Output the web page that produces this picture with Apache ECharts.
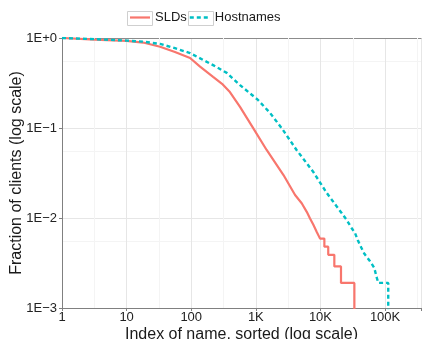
<!DOCTYPE html>
<html>
<head>
<meta charset="utf-8">
<script src="https://cdn.jsdelivr.net/npm/echarts@6/dist/echarts.min.js"></script>
<style>
  html, body { margin: 0; padding: 0; background: #fff; }
  #chart { width: 422px; height: 339px; }
</style>
</head>
<body>
<div id="chart"></div>
<script>
// CCDF of clients over names
const sldIdx = [1, 3.2, 10, 18, 33, 56, 96, 137, 218, 300, 390, 569, 915, 1470, 2680, 4050, 5130, 6140, 6900, 7770, 8770, 9860,
  11500, 11500, 13200, 13200, 16400, 16400, 20800, 20800, 33500, 33500];
const sldFrac = [1, 0.96, 0.93, 0.89, 0.80, 0.70, 0.60, 0.48, 0.37, 0.31, 0.255, 0.172, 0.099, 0.057, 0.030, 0.018, 0.0146, 0.0117, 0.0099, 0.0084, 0.0070, 0.0059,
  0.0059, 0.0048, 0.0048, 0.0039, 0.0039, 0.0029, 0.0029, 0.0019, 0.0019, 0.00096];

const hostIdx = [1, 3.2, 10, 18, 33, 56, 96, 218, 355, 569, 1080, 1660, 2530, 4270, 7700, 12500, 17900, 21400, 25500, 30500,
  34300, 37800, 41000, 47800, 58600, 68000, 74000, 78700, 112000, 112000];
const hostFrac = [1, 0.97, 0.935, 0.91, 0.86, 0.77, 0.68, 0.50, 0.41, 0.30, 0.205, 0.147, 0.099, 0.057, 0.0327, 0.019, 0.0134, 0.0113, 0.0095, 0.0077,
  0.0068, 0.0057, 0.0050, 0.0040, 0.0033, 0.0028, 0.0022, 0.0019, 0.0019, 0.00096];

const xTickLabels = { 0: '1', 1: '10', 2: '100', 3: '1K', 4: '10K', 5: '100K' };
const yTickLabels = { 0: '1E+0', '-1': '1E\u22121', '-2': '1E\u22122', '-3': '1E\u22123' };
const xMinorTicks = [3.1623, 31.623, 316.23, 3162.3, 31623, 316228];

const FONT = '"Liberation Sans", Arial, sans-serif';
const red = '#F8766D';
const cyan = '#00BFC4';

const zip = (xs, ys) => xs.map((x, i) => [x, ys[i]]);

const chart = echarts.init(document.getElementById('chart'), null, { renderer: 'canvas' });
chart.setOption({
  animation: false,
  textStyle: { fontFamily: FONT },
  grid: { left: 62, right: 1, top: 38, bottom: 31, containLabel: false, outerBoundsMode: 'none' },
  legend: {
    top: 11,
    left: 130,
    padding: 0,
    itemWidth: 20,
    itemHeight: 14,
    itemGap: 3,
    textStyle: { fontSize: 13, color: '#1a1a1a', fontFamily: FONT },
    data: [
      { name: 'SLDs', icon: 'path://M0,0H20V2.2H0Z' },
      { name: 'Hostnames', icon: 'path://M0,0h4v2.4h-4z M7,0h4v2.4h-4z M14,0h4v2.4h-4z M20,0h0.01v2.4h-0.01z' }
    ]
  },
  graphic: [
    { type: 'rect', shape: { x: 127.5, y: 11.5, width: 25, height: 14 }, style: { fill: 'none', stroke: '#cfcfcf', lineWidth: 1 }, z: 0 },
    { type: 'rect', shape: { x: 188.5, y: 11.5, width: 25, height: 14 }, style: { fill: 'none', stroke: '#cfcfcf', lineWidth: 1 }, z: 0 }
  ],
  xAxis: [{
    type: 'log',
    logBase: 10,
    min: 1,
    max: 360000,
    name: 'Index of name, sorted (log scale)',
    nameLocation: 'middle',
    nameGap: 19,
    nameMoveOverlap: false,
    nameTextStyle: { fontSize: 16, color: '#1a1a1a', fontFamily: FONT },
    axisLine: { lineStyle: { color: '#808080', width: 1 } },
    axisTick: { show: true, length: 3, lineStyle: { color: '#808080' } },
    axisLabel: {
      fontSize: 13, color: '#222', margin: 3, fontFamily: FONT,
      formatter: v => {
        const e = Math.log10(v);
        return Math.abs(e - Math.round(e)) < 1e-6 && xTickLabels[Math.round(e)] !== undefined ? xTickLabels[Math.round(e)] : '';
      }
    },
    splitLine: { show: true, lineStyle: { color: '#e6e6e6', width: 1 } },
    minorSplitLine: { show: false }
  }, {
    type: 'log',
    position: 'top',
    min: 1,
    max: 360000,
    axisLine: { show: true, lineStyle: { color: '#8c8c8c', width: 1 } },
    axisTick: { show: false },
    axisLabel: { show: false },
    splitLine: { show: false }
  }],
  yAxis: {
    type: 'log',
    logBase: 10,
    min: 0.001,
    max: 1,
    name: 'Fraction of clients (log scale)',
    nameLocation: 'middle',
    nameGap: 37,
    nameMoveOverlap: false,
    nameTextStyle: { fontSize: 16, color: '#1a1a1a', fontFamily: FONT },
    axisLine: { show: true, lineStyle: { color: '#808080', width: 1 } },
    axisTick: { show: true, length: 3, lineStyle: { color: '#808080' } },
    axisLabel: {
      fontSize: 13, color: '#222', margin: 5, fontFamily: FONT,
      formatter: v => yTickLabels[Math.round(Math.log10(v))] || ''
    },
    splitLine: { show: true, lineStyle: { color: '#e6e6e6', width: 1 } },
    minorTick: { show: false, splitNumber: 2 },
    minorSplitLine: { show: true, lineStyle: { color: '#f4f4f4', width: 1 } }
  },
  series: [{
    type: 'line',
    name: 'minor',
    data: [],
    z: 1,
    silent: true,
    markLine: {
      z: 1,
      silent: true,
      symbol: 'none',
      label: { show: false },
      lineStyle: { color: '#f4f4f4', width: 1, type: 'solid' },
      data: xMinorTicks.map(v => ({ xAxis: v }))
    }
  }, {
    type: 'line',
    name: 'SLDs',
    data: zip(sldIdx, sldFrac),
    symbol: 'none',
    lineStyle: { color: red, width: 2.2 },
    itemStyle: { color: red },
    z: 3
  }, {
    type: 'line',
    name: 'Hostnames',
    data: zip(hostIdx, hostFrac),
    symbol: 'none',
    lineStyle: { color: cyan, width: 2.4, type: [4, 3] },
    itemStyle: { color: cyan },
    z: 4
  }]
});
</script>
</body>
</html>
